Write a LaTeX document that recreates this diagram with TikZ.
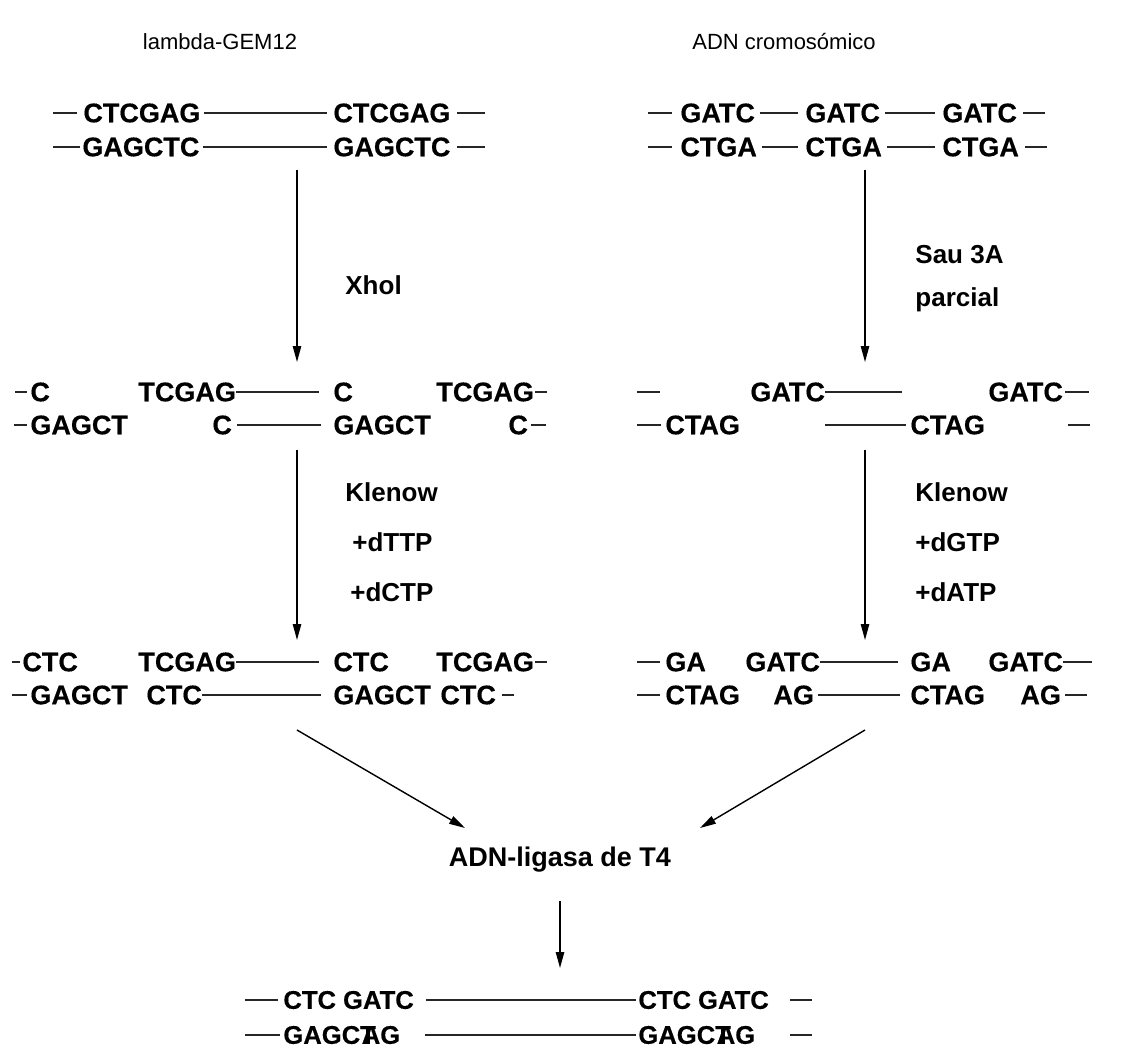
\documentclass[tikz,border=0pt]{standalone}
\usepackage{fontspec}
\setmainfont{Liberation Sans}
\newfontfamily\heavyfont[FakeBold=0.4]{Liberation Sans Bold}
\usetikzlibrary{arrows.meta}
\begin{document}
\begin{tikzpicture}[x=0.5pt,y=-0.5pt,
  seq/.style={font=\fontsize{13.5}{16}\heavyfont, inner sep=0pt, anchor=west},
  seqf/.style={font=\fontsize{12.8}{15}\heavyfont, inner sep=0pt, anchor=west},
  lab/.style={font=\fontsize{13}{15}\selectfont\bfseries, inner sep=0pt, anchor=west},
  ttl/.style={font=\fontsize{11}{14}\selectfont, inner sep=0pt},
  strand/.style={line width=0.9pt, black!85},
  arr/.style={line width=0.7pt, -{Triangle[length=8pt,width=4.2pt]}}
]
\useasboundingbox (0,0) rectangle (1138,1054);

% titles
\node[ttl] (t1) at (220,42) {lambda-GEM12};
\node[ttl] (t2) at (784,42) {ADN cromosómico};

% ---------- row 1 left
\node[seq] (a1) at (83,113) {CTCGAG};
\node[seq] (a2) at (333,113) {CTCGAG};
\node[seq] (a3) at (82,147) {GAGCTC};
\node[seq] (a4) at (333,147) {GAGCTC};
\coordinate (a1l) at (53,113); \coordinate (a1r) at (77,113);
\coordinate (a2r) at ([xshift=3pt]a2.east); \coordinate (a2e) at ([xshift=17pt]a2.east);
\coordinate (a3l) at (53,147); \coordinate (a3r) at (80,147);
\coordinate (a4r) at ([xshift=3pt]a4.east); \coordinate (a4e) at ([xshift=17pt]a4.east);
\draw[strand] (a1l) -- (a1r);
\draw[strand,shorten <=1.5pt,shorten >=3pt] (a1.east) -- (a2.west);
\draw[strand] (a2r) -- (a2e);
\draw[strand] (a3l) -- (a3r);
\draw[strand,shorten <=1.5pt,shorten >=3pt] (a3.east) -- (a4.west);
\draw[strand] (a4r) -- (a4e);

% ---------- row 1 right
\node[seq] (b1) at (680,113) {GATC};
\node[seq] (b2) at (805,113) {GATC};
\node[seq] (b3) at (942,113) {GATC};
\node[seq] (b4) at (680,147) {CTGA};
\node[seq] (b5) at (805,147) {CTGA};
\node[seq] (b6) at (942,147) {CTGA};
\coordinate (b1l) at (648,113); \coordinate (b1r) at (672,113);
\coordinate (b3r) at ([xshift=3pt]b3.east); \coordinate (b3e) at ([xshift=14pt]b3.east);
\coordinate (b4l) at (648,147); \coordinate (b4r) at (672,147);
\coordinate (b6r) at ([xshift=3pt]b6.east); \coordinate (b6e) at ([xshift=14pt]b6.east);
\draw[strand] (b1l) -- (b1r);
\draw[strand,shorten <=2.5pt,shorten >=3.5pt] (b1.east) -- (b2.west);
\draw[strand,shorten <=2.5pt,shorten >=3.5pt] (b2.east) -- (b3.west);
\draw[strand] (b3r) -- (b3e);
\draw[strand] (b4l) -- (b4r);
\draw[strand,shorten <=2.5pt,shorten >=3.5pt] (b4.east) -- (b5.west);
\draw[strand,shorten <=2.5pt,shorten >=3.5pt] (b5.east) -- (b6.west);
\draw[strand] (b6r) -- (b6e);

% ---------- arrows 1
\coordinate (v1s) at (297,170); \coordinate (v1e) at (297,362);
\coordinate (v2s) at (865,170); \coordinate (v2e) at (865,362);
\draw[arr] (v1s) -- (v1e);
\draw[arr] (v2s) -- (v2e);
\node[lab] (xho) at (345,285) {Xhol};
\node[lab] (sau) at (915,255) {Sau 3A};
\node[lab] (par) at (915,300) {parcial};

% ---------- row 2 left
\node[seq] (c1) at (30,392) {C};
\node[seq] (c2) at (138,392) {TCGAG};
\node[seq] (c3) at (333,392) {C};
\node[seq] (c4) at (436,392) {TCGAG};
\node[seq] (c5) at (30,425) {GAGCT};
\node[seq] (c6) at (212,425) {C};
\node[seq] (c7) at (333,425) {GAGCT};
\node[seq] (c8) at (508,425) {C};
\coordinate (c1l) at (15,392); \coordinate (c1r) at (27,392);
\coordinate (c4r) at ([xshift=0.5pt]c4.east); \coordinate (c4e) at ([xshift=6.5pt]c4.east);
\coordinate (c5l) at (14,425); \coordinate (c5r) at (27,425);
\coordinate (c8r) at ([xshift=1.5pt]c8.east); \coordinate (c8e) at ([xshift=9pt]c8.east);
\draw[strand] (c1l) -- (c1r);
\draw[strand,shorten >=7pt] (c2.east) -- (c3.west);
\draw[strand] (c4r) -- (c4e);
\draw[strand] (c5l) -- (c5r);
\draw[strand,shorten <=2.5pt,shorten >=6pt] (c6.east) -- (c7.west);
\draw[strand] (c8r) -- (c8e);

% ---------- row 2 right
\node[seq] (d1) at (750,392) {GATC};
\node[seq] (d2) at (988,392) {GATC};
\node[seq] (d3) at (665,425) {CTAG};
\node[seq] (d4) at (910,425) {CTAG};
\coordinate (d0l) at (637,392); \coordinate (d0r) at (660,392);
\coordinate (d1r) at (902,392);
\coordinate (d2r) at ([xshift=1pt]d2.east); \coordinate (d2e) at ([xshift=13pt]d2.east);
\coordinate (d3l) at (637,425);
\coordinate (d4l) at (825,425);
\coordinate (d4r) at (1068,425); \coordinate (d4e) at (1090,425);
\draw[strand] (d0l) -- (d0r);
\draw[strand] (d1.east) -- (d1r);
\draw[strand] (d2r) -- (d2e);
\draw[strand,shorten >=2pt] (d3l) -- (d3.west);
\draw[strand,shorten >=2pt] (d4l) -- (d4.west);
\draw[strand] (d4r) -- (d4e);

% ---------- arrows 2
\coordinate (w1s) at (297,450); \coordinate (w1e) at (297,640);
\coordinate (w2s) at (865,450); \coordinate (w2e) at (865,640);
\draw[arr] (w1s) -- (w1e);
\draw[arr] (w2s) -- (w2e);
\node[lab] (kl1) at (345,492) {Klenow};
\node[lab] (dt1) at (352,542) {+dTTP};
\node[lab] (dc1) at (350,592) {+dCTP};
\node[lab] (kl2) at (915,492) {Klenow};
\node[lab] (dg2) at (915,542) {+dGTP};
\node[lab] (da2) at (915,592) {+dATP};

% ---------- row 3 left
\node[seq] (e1) at (22,662) {CTC};
\node[seq] (e2) at (138,662) {TCGAG};
\node[seq] (e3) at (333,662) {CTC};
\node[seq] (e4) at (436,662) {TCGAG};
\node[seq] (e5) at (30,695) {GAGCT};
\node[seq] (e6) at (146,695) {CTC};
\node[seq] (e7) at (333,695) {GAGCT};
\node[seq] (e8) at (440,695) {CTC};
\coordinate (e1l) at (12,662); \coordinate (e1r) at (20,662);
\coordinate (e4r) at ([xshift=0.5pt]e4.east); \coordinate (e4e) at ([xshift=6.5pt]e4.east);
\coordinate (e5l) at (12,695); \coordinate (e5r) at (27,695);
\coordinate (e8r) at ([xshift=3pt]e8.east); \coordinate (e8e) at ([xshift=9pt]e8.east);
\draw[strand] (e1l) -- (e1r);
\draw[strand,shorten >=7pt] (e2.east) -- (e3.west);
\draw[strand] (e4r) -- (e4e);
\draw[strand] (e5l) -- (e5r);
\draw[strand,shorten >=6pt] (e6.east) -- (e7.west);
\draw[strand] (e8r) -- (e8e);

% ---------- row 3 right
\node[seq] (f1) at (665,662) {GA};
\node[seq] (f2) at (745,662) {GATC};
\node[seq] (f3) at (910,662) {GA};
\node[seq] (f4) at (988,662) {GATC};
\node[seq] (f5) at (665,695) {CTAG};
\node[seq] (f6) at (773,695) {AG};
\node[seq] (f7) at (910,695) {CTAG};
\node[seq] (f8) at (1020,695) {AG};
\coordinate (f1l) at (637,662); \coordinate (f1r) at (660,662);
\coordinate (f4e) at (1092,662);
\coordinate (f5l) at (637,695); \coordinate (f5r) at (660,695);
\coordinate (f8r) at ([xshift=2pt]f8.east); \coordinate (f8e) at ([xshift=13pt]f8.east);
\draw[strand] (f1l) -- (f1r);
\draw[strand,shorten >=6pt] (f2.east) -- (f3.west);
\draw[strand] (f4.east) -- (f4e);
\draw[strand] (f5l) -- (f5r);
\draw[strand,shorten <=2pt,shorten >=5pt] (f6.east) -- (f7.west);
\draw[strand] (f8r) -- (f8e);

% ---------- converging arrows
\coordinate (g1s) at (297,730); \coordinate (g1e) at (465,828);
\coordinate (g2s) at (865,730); \coordinate (g2e) at (700,828);
\draw[arr] (g1s) -- (g1e);
\draw[arr] (g2s) -- (g2e);
\node[font=\fontsize{13.5}{16}\selectfont\bfseries, inner sep=0pt] (lig) at (560,860) {ADN-ligasa de T4};
\coordinate (h1e) at (560,968);
\draw[arr] ([yshift=-14pt]lig.south) -- (h1e);

% ---------- final row
\node[seqf] (k1) at (283,1000) {CTC GATC};
\node[seqf] (k2) at (638,1000) {CTC GATC};
\node[seqf] (k3) at (283,1035) {GAGCT\kern-0.55emAG};
\node[seqf] (k4) at (638,1035) {GAGCT\kern-0.55emAG};
\coordinate (k1l) at (245,1000); \coordinate (k1r) at (278,1000);
\coordinate (k2r) at (790,1000); \coordinate (k2e) at (812,1000);
\coordinate (k3l) at (245,1035); \coordinate (k3r) at (280,1035);
\coordinate (k4r) at (790,1035); \coordinate (k4e) at (812,1035);
\draw[strand] (k1l) -- (k1r);
\draw[strand,shorten <=6pt,shorten >=1pt] (k1.east) -- (k2.west);
\draw[strand] (k2r) -- (k2e);
\draw[strand] (k3l) -- (k3r);
\draw[strand,shorten <=12pt,shorten >=1pt] (k3.east) -- (k4.west);
\draw[strand] (k4r) -- (k4e);
\end{tikzpicture}
\end{document}
